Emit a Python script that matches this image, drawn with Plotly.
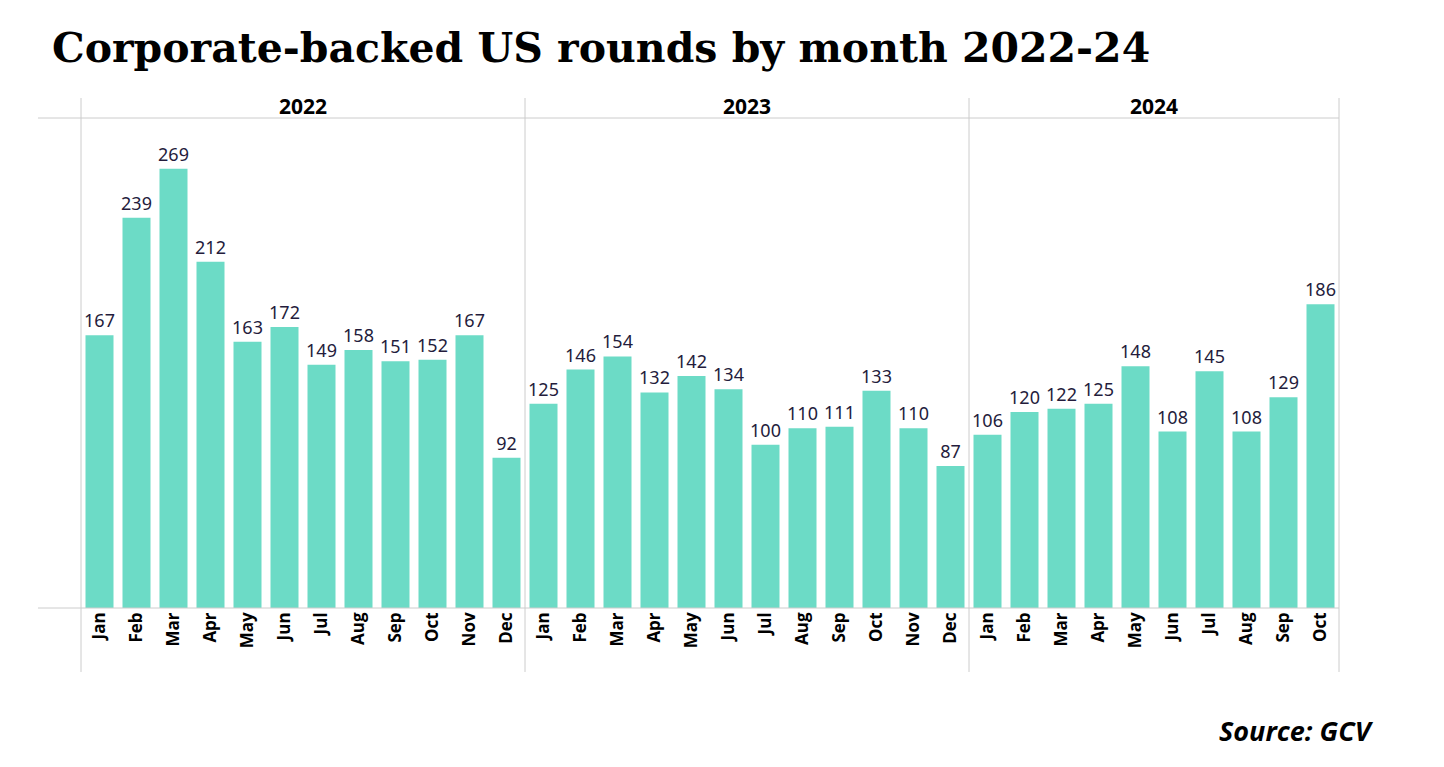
import plotly.graph_objects as go
from plotly.subplots import make_subplots

years = ["2022", "2023", "2024"]
months_full = ["Jan", "Feb", "Mar", "Apr", "May", "Jun", "Jul", "Aug", "Sep", "Oct", "Nov", "Dec"]
months_2022 = months_full
months_2023 = months_full
months_2024 = months_full[:10]
values_2022 = [167, 239, 269, 212, 163, 172, 149, 158, 151, 152, 167, 92]
values_2023 = [125, 146, 154, 132, 142, 134, 100, 110, 111, 133, 110, 87]
values_2024 = [106, 120, 122, 125, 148, 108, 145, 108, 129, 186]

title = "Corporate-backed US rounds by month 2022-24"
source = "Source: GCV"

bar_color = "#6cdbc6"
grid_color = "#cccccc"
label_color = "#241c3c"

fig = make_subplots(rows=1, cols=3, shared_yaxes=True, horizontal_spacing=0,
                    column_widths=[12, 12, 10])

series = [(months_2022, values_2022), (months_2023, values_2023), (months_2024, values_2024)]
for i, (m, v) in enumerate(series):
    fig.add_trace(go.Bar(
        x=m, y=v, marker=dict(color=bar_color, line=dict(width=0)),
        text=[str(x) for x in v], textposition="outside", cliponaxis=False,
        constraintext="none",
        textfont=dict(family="Noto Sans", size=18, color=label_color),
        width=0.757, showlegend=False, hoverinfo="x+y"),
        row=1, col=i + 1)
    fig.update_xaxes(type="category", categoryorder="array", categoryarray=m,
                     tickangle=-90, showgrid=False, showline=False, ticks="",
                     tickfont=dict(family="Open Sans", size=17, color="#000000", weight="bold"),
                     row=1, col=i + 1)

fig.update_yaxes(range=[0, 300], showgrid=False, showticklabels=False, zeroline=False,
                 showline=False, ticks="")

# horizontal lines (top and baseline)
for yy in [0, 1]:
    fig.add_shape(type="line", xref="paper", yref="paper", x0=-0.0342, x1=1.0, y0=yy, y1=yy,
                  line=dict(color=grid_color, width=1))
# vertical separators
for xx in [0, 12 / 34, 24 / 34, 1.0]:
    fig.add_shape(type="line", xref="paper", yref="paper", x0=xx, x1=xx, y0=-0.1306, y1=1.0408,
                  line=dict(color=grid_color, width=1))

# year headers
for i, yr in enumerate(years):
    ax = "x" if i == 0 else f"x{i + 1}"
    fig.add_annotation(text=yr, xref=f"{ax} domain", yref="paper", x=0.5, y=1.0,
                       yanchor="bottom", yshift=-4, showarrow=False,
                       font=dict(family="Open Sans", size=21, color="#000000", weight="bold"))

fig.add_annotation(text=title, xref="paper", yref="paper", x=-0.0246, y=1.1429,
                   xanchor="left", yanchor="middle", showarrow=False,
                   font=dict(family="DejaVu Serif", size=41, color="#000000", weight="bold"))
fig.add_annotation(text="<b><i>" + source + "</i></b>", xref="paper", yref="paper",
                   x=1.0295, y=-0.251, xanchor="right", yanchor="middle", showarrow=False,
                   font=dict(family="Open Sans", size=27, color="#000000"))

fig.update_layout(width=1428, height=751, paper_bgcolor="white", plot_bgcolor="white",
                  margin=dict(l=73, r=97, t=110, b=151), bargap=0.243)

fig.write_html("out.html")
